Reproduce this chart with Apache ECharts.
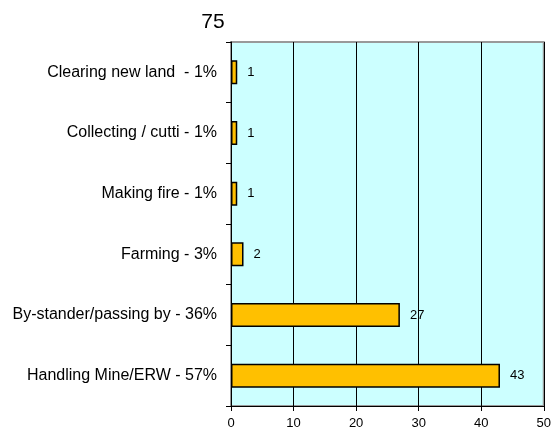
<!DOCTYPE html>
<html><head><meta charset="utf-8">
<script src="https://cdn.jsdelivr.net/npm/echarts@6/dist/echarts.min.js"></script>
<style>html,body{margin:0;padding:0;background:#fff}#c{width:554px;height:430px}</style>
</head><body><div id="c"></div>
<script>
const categories = ["Handling Mine/ERW - 57%", "By-stander/passing by - 36%", "Farming - 3%", "Making fire - 1%", "Collecting / cutti - 1%", "Clearing new land  - 1%"];
const values = [43, 27, 2, 1, 1, 1];
const xTicks = [0, 10, 20, 30, 40, 50];
const titleText = "75";

const chart = echarts.init(document.getElementById('c'));
chart.setOption({
  animation: false,
  title: { text: titleText, left: 208, top: 7, textAlign: 'center',
    textStyle: { fontFamily: 'Liberation Sans', fontSize: 21, fontWeight: 'normal', color: '#000' } },
  grid: { left: 231, right: 7, top: 42, bottom: 24, show: true, backgroundColor: '#ccffff', borderColor: '#999', borderWidth: 2 },
  xAxis: {
    type: 'value', min: xTicks[0], max: xTicks[xTicks.length-1], interval: 10,
    axisLine: { show: true, lineStyle: { color: '#000' } },
    axisTick: { show: true, length: 5, lineStyle: { color: '#000' } },
    axisLabel: { fontFamily: 'Liberation Sans', fontSize: 13, color: '#000', margin: 11 },
    splitLine: { show: true, lineStyle: { color: '#000', width: 1 } }
  },
  yAxis: {
    type: 'category', data: categories,
    axisLine: { show: true, lineStyle: { color: '#000' } },
    axisTick: { show: true, length: 5, lineStyle: { color: '#000' } },
    axisLabel: { fontFamily: 'Liberation Sans', fontSize: 16, color: '#000', margin: 14 }
  },
  series: [{
    type: 'bar', data: values, barWidth: 24,
    itemStyle: { color: '#ffc000', borderColor: '#000', borderWidth: 1.5 },
    label: { show: true, position: 'right', distance: 10, fontFamily: 'Liberation Sans', fontSize: 13, color: '#000' }
  }]
});
</script></body></html>
